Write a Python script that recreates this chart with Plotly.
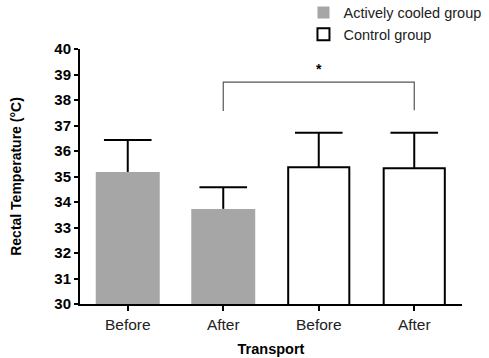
import plotly.graph_objects as go

categories = ["Before", "After", "Before", "After"]
cooled_x = [0, 1]
cooled_mean = [35.18, 33.73]
cooled_err = [1.25, 0.85]
control_x = [2, 3]
control_mean = [35.36, 35.32]
control_err = [1.36, 1.40]
bracket_from, bracket_to = 1, 3
bracket_top = 38.7
bracket_bottom = [37.57, 37.6]

fig = go.Figure()
fig.add_trace(go.Bar(
    x=cooled_x, y=cooled_mean, width=0.67, name="Actively cooled group",
    marker=dict(color="#a6a6a6", line=dict(width=0)),
))
fig.add_trace(go.Bar(
    x=control_x, y=control_mean, width=0.64, name="Control group",
    marker=dict(color="white", line=dict(color="black", width=2)),
))

# upward-only error bars: stems + caps
for xs, means, errs in [(cooled_x, cooled_mean, cooled_err), (control_x, control_mean, control_err)]:
    sx, sy = [], []
    for xv, m, e in zip(xs, means, errs):
        sx += [xv, xv, None]
        sy += [m, m + e, None]
    fig.add_trace(go.Scatter(x=sx, y=sy, mode="lines", line=dict(color="black", width=2),
                             showlegend=False, hoverinfo="skip"))
    fig.add_trace(go.Scatter(x=xs, y=[m + e for m, e in zip(means, errs)], mode="markers",
                             marker=dict(symbol="line-ew-open", size=34, color="black",
                                         line=dict(color="black", width=2)),
                             showlegend=False, hoverinfo="skip"))

fig.add_shape(type="path",
              path=f"M {bracket_from} {bracket_bottom[0]} L {bracket_from} {bracket_top} L {bracket_to} {bracket_top} L {bracket_to} {bracket_bottom[1]}",
              line=dict(color="#555", width=1.2), xref="x", yref="y")
fig.add_annotation(x=(bracket_from + bracket_to) / 2, y=bracket_top, text="<b>*</b>",
                   showarrow=False, yanchor="bottom", yshift=3,
                   font=dict(size=14, color="black"))

fig.update_layout(
    width=489, height=358,
    margin=dict(l=80, r=27, t=49, b=54, autoexpand=False),
    paper_bgcolor="white", plot_bgcolor="white",
    font=dict(family="Liberation Sans, Arial, sans-serif", color="black"),
    barmode="overlay",
    showlegend=True,
    legend=dict(x=0.585, y=1.206, xanchor="left", yanchor="top",
                font=dict(size=14.5, color="#222"), bgcolor="rgba(0,0,0,0)",
                itemwidth=30, tracegroupgap=0),
    xaxis=dict(range=[-0.5, 3.5], tickmode="array", tickvals=[0, 1, 2, 3],
               ticktext=categories, showline=True, linecolor="black", linewidth=2,
               ticks="outside", ticklen=5, tickwidth=2, tickcolor="black",
               showgrid=False, zeroline=False, tickfont=dict(size=15.5, color="#222"),
               title=dict(text="<b>Transport</b>", font=dict(size=14.5, color="black"), standoff=12)),
    yaxis=dict(range=[30, 40], dtick=1, showline=True, linecolor="black", linewidth=2,
               ticks="outside", ticklen=4, tickwidth=2, tickcolor="black",
               showgrid=False, zeroline=False,
               tickfont=dict(size=15, color="black", weight="bold"),
               title=dict(text="<b>Rectal Temperature (°C)</b>", font=dict(size=14, color="black"), standoff=29)),
)

fig.write_html("out.html", config={"displayModeBar": False},
               post_script="document.body.style.margin='0px';")
